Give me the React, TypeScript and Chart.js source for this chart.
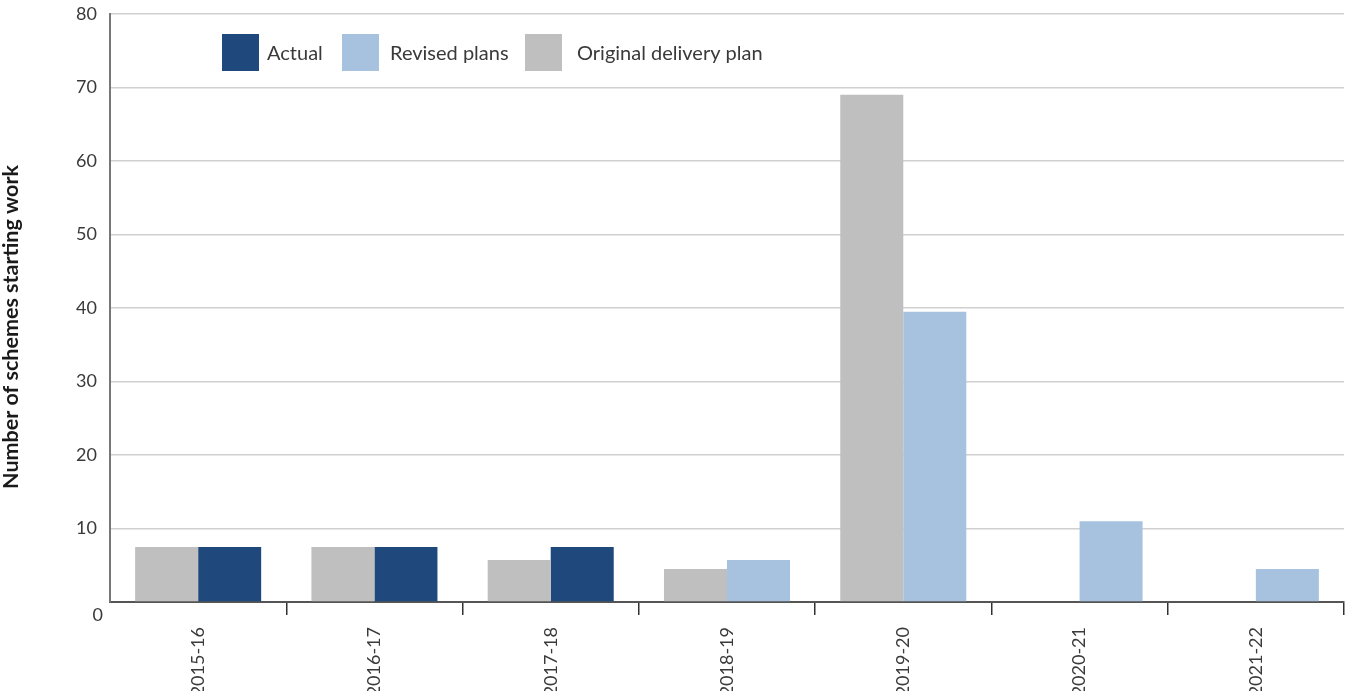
import React, { useEffect, useRef } from "react";
import { Chart, registerables } from "chart.js";

Chart.register(...registerables);

const categories = ["2015-16", "2016-17", "2017-18", "2018-19", "2019-20", "2020-21", "2021-22"];
const originalDeliveryPlan = [7.5, 7.5, 5.7, 4.5, 69, null, null];
const actual = [7.5, 7.5, 7.5, null, null, null, null];
const revisedPlans = [null, null, null, 5.7, 39.5, 11, 4.5];
const yMin = 0;
const yMax = 80;
const yStep = 10;
const yAxisTitle = "Number of schemes starting work";

const COLORS = { actual: "#1F497D", revised: "#A7C2DF", original: "#BFBFBF" };
const FONT = "Lato, 'Open Sans', sans-serif";
const TEXT = "#3a3a3a";

const overlayPlugin = {
  id: "overlay",
  afterDraw(chart: any) {
    const { ctx, scales } = chart;
    ctx.save();
    const order = [1, 2, 0];
    const boxX = [222, 342, 525];
    const textX = [267, 390, 577];
    order.forEach((di, k) => {
      const ds = chart.data.datasets[di];
      ctx.fillStyle = ds.backgroundColor;
      ctx.fillRect(boxX[k], 34, 37, 37);
      ctx.fillStyle = TEXT;
      ctx.font = `20px ${FONT}`;
      ctx.textAlign = "left";
      ctx.textBaseline = "middle";
      ctx.fillText(ds.label, textX[k], 54);
    });
    const y0 = scales.y.getPixelForValue(0);
    ctx.font = `18px ${FONT}`;
    ctx.textAlign = "right";
    ctx.textBaseline = "middle";
    ctx.fillStyle = TEXT;
    ctx.fillText("0", 103, y0 + 13);
    ctx.translate(18, 327);
    ctx.rotate(-Math.PI / 2);
    ctx.font = `bold 21.5px ${FONT}`;
    ctx.fillStyle = "#1a1a1a";
    ctx.textAlign = "center";
    ctx.textBaseline = "alphabetic";
    ctx.fillText(yAxisTitle, 0, 0);
    ctx.restore();
  },
};

export default function App() {
  const ref = useRef<HTMLCanvasElement | null>(null);
  useEffect(() => {
    if (!ref.current) return;
    const chart = new Chart(ref.current, {
      type: "bar",
      data: {
        labels: categories,
        datasets: [
          { label: "Original delivery plan", data: originalDeliveryPlan, backgroundColor: COLORS.original, stack: "orig" },
          { label: "Actual", data: actual, backgroundColor: COLORS.actual, stack: "new" },
          { label: "Revised plans", data: revisedPlans, backgroundColor: COLORS.revised, stack: "new" },
        ],
      },
      options: {
        responsive: false,
        animation: false,
        categoryPercentage: 0.715,
        barPercentage: 1,
        layout: { padding: { left: 0, right: 2, top: 14, bottom: 0 } },
        plugins: { legend: { display: false }, tooltip: { enabled: false } },
        scales: {
          x: {
            offset: true,
            afterFit: (s: any) => { s.height = 89; },
            grid: {
              display: true,
              drawOnChartArea: false,
              drawTicks: true,
              tickLength: 13,
              lineWidth: 1.5,
              color: (c: any) => (c.index === 0 ? "rgba(0,0,0,0)" : "#333333"),
            },
            border: { display: true, color: "#555555", width: 2 },
            ticks: {
              autoSkip: false,
              minRotation: 90,
              maxRotation: 90,
              padding: 12,
              color: TEXT,
              font: { family: FONT, size: 18 },
            },
          },
          y: {
            min: yMin,
            max: yMax,
            afterFit: (s: any) => { s.width = 110; s.paddingTop = 0; s.paddingBottom = 0; },
            grid: { color: "#d0d0d0", lineWidth: 1.5, drawTicks: false },
            border: { display: true, color: "#777777", width: 2 },
            ticks: {
              stepSize: yStep,
              padding: 13,
              color: TEXT,
              font: { family: FONT, size: 18 },
              callback: (v: any) => (Number(v) === 0 ? "" : String(v)),
            },
          },
        },
      },
      plugins: [overlayPlugin],
    });
    return () => chart.destroy();
  }, []);
  return (
    <div style={{ position: "fixed", left: 0, top: 0, width: 1346, height: 691, background: "#fff" }}>
      <canvas ref={ref} width={1346} height={691} style={{ display: "block" }} />
    </div>
  );
}
